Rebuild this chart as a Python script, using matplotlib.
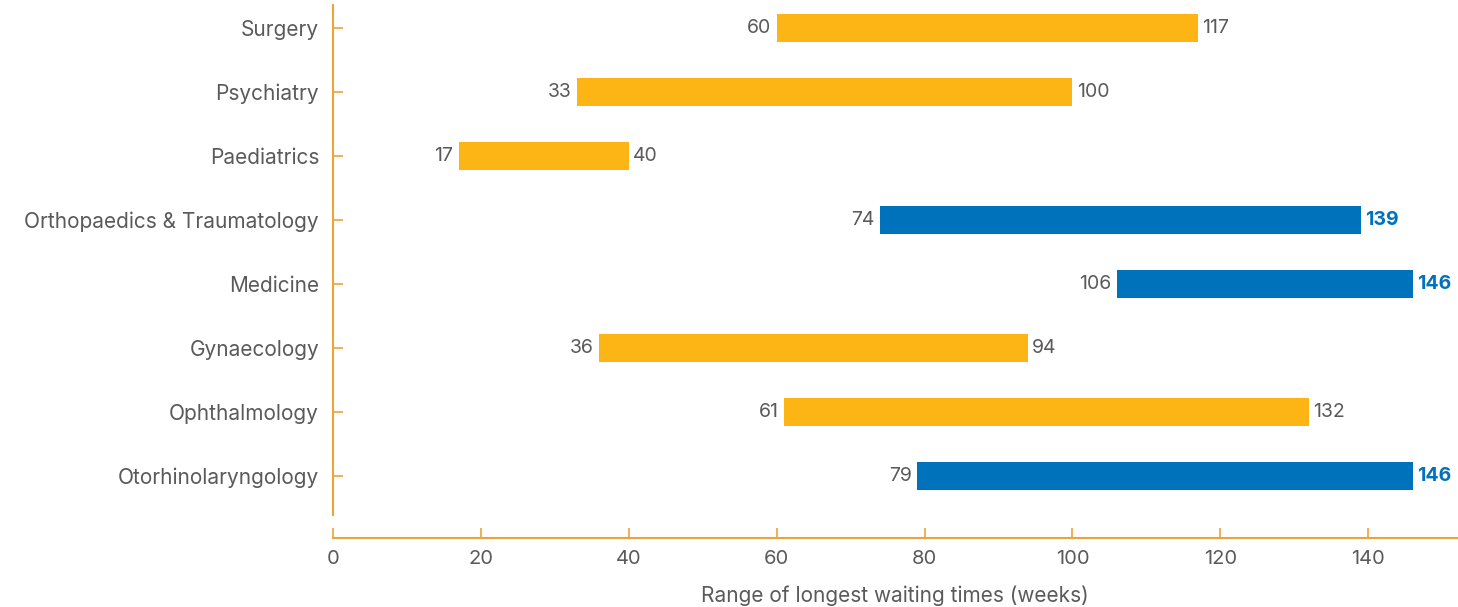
import matplotlib
matplotlib.use("Agg")
import matplotlib.pyplot as plt

categories = ["Surgery", "Psychiatry", "Paediatrics", "Orthopaedics & Traumatology",
              "Medicine", "Gynaecology", "Ophthalmology", "Otorhinolaryngology"]
low = [60, 33, 17, 74, 106, 36, 61, 79]
high = [117, 100, 40, 139, 146, 94, 132, 146]
highlight = [False, False, False, True, True, False, False, True]
xticks = [0, 20, 40, 60, 80, 100, 120, 140]

YELLOW = "#FDB515"
BLUE = "#0072BC"
AXIS = "#EBA43A"
TEXT = "#5A5A5A"

plt.rcParams['font.family'] = ['Inter', 'DejaVu Sans']

fig = plt.figure(figsize=(14.58, 6.07), dpi=100)
ax = fig.add_axes([333/1458, 1 - 515/607, (1457 - 333)/1458, (515 - 5)/607])

for i, (c, lo, hi, hl) in enumerate(zip(categories, low, high, highlight)):
    col = BLUE if hl else YELLOW
    ax.barh(i, hi - lo, left=lo, height=0.44, color=col)
    ax.annotate(str(lo), (lo, i), xytext=(-4, 0), textcoords="offset points",
                ha="right", va="center", fontsize=14, color=TEXT)
    ax.annotate(str(hi), (hi, i), xytext=(3, 0), textcoords="offset points",
                ha="left", va="center", fontsize=14,
                color=BLUE if hl else TEXT, fontweight="bold" if hl else "normal")

ax.set_yticks(range(len(categories)))
ax.set_yticklabels(categories)
ax.set_ylim(7.61, -0.36)
ax.set_xlim(0, 152)
ax.set_xticks(xticks)

for s in ["top", "right"]:
    ax.spines[s].set_visible(False)
ax.spines["left"].set_color(AXIS)
ax.spines["bottom"].set_color(AXIS)
ax.spines["left"].set_linewidth(1.5)
ax.spines["bottom"].set_linewidth(1.5)
ax.spines["bottom"].set_position(("outward", 16.5))

ax.tick_params(axis="y", direction="in", length=7, width=1.2, color=AXIS,
               labelsize=15, labelcolor=TEXT, pad=10)
ax.tick_params(axis="x", direction="in", length=7, width=1.2, color=AXIS,
               labelsize=14.5, labelcolor=TEXT, pad=9)

ax.set_xlabel("Range of longest waiting times (weeks)", fontsize=15, color=TEXT, labelpad=12)

fig.savefig("out.png", dpi=100)
